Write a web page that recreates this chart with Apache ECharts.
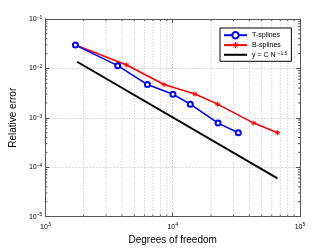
<!DOCTYPE html>
<html><head><meta charset="utf-8">
<script src="https://cdn.jsdelivr.net/npm/echarts@6/dist/echarts.min.js"></script>
<style>html,body{margin:0;padding:0;background:#fff}#c{width:332px;height:250px}</style>
</head><body><div id="c"></div>
<script>
const tDof = [1722, 3700, 6335, 10040, 13750, 22720, 32750];
const tErr = [0.0296, 0.01138, 0.00471, 0.00299, 0.00189, 0.000781, 0.000498];
const bDof = [1722, 4350, 8540, 14960, 22480, 43330, 66570];
const bErr = [0.0296, 0.01172, 0.00471, 0.00303, 0.00189, 0.000781, 0.000498];
const refDof = [1775, 66570];
const refErr = [0.01364, 0.0000594];
const xMinor = [2000,3000,4000,5000,6000,7000,8000,9000,20000,30000,40000,50000,60000,70000,80000,90000];
const yMinor = [2e-5,3e-5,4e-5,5e-5,6e-5,7e-5,8e-5,9e-5,2e-4,3e-4,4e-4,5e-4,6e-4,7e-4,8e-4,9e-4,
                2e-3,3e-3,4e-3,5e-3,6e-3,7e-3,8e-3,9e-3,2e-2,3e-2,4e-2,5e-2,6e-2,7e-2,8e-2,9e-2];
const X_MIN = 1000, X_MAX = 100000, Y_MIN = 1e-5, Y_MAX = 1e-1;

const FONT = 'Liberation Sans';
const AX = '#555';
const GRIDC = '#b8b8b8';
const STAR = 'path://M5,0L5,10M0,5L10,5M1.5,1.5L8.5,8.5M1.5,8.5L8.5,1.5';

function expLabel(v) {
  const e = Math.round(Math.log10(v));
  return '{a|10}{b|' + (e < 0 ? '\u2212' + (-e) : e) + '}';
}
const labRich = {
  a: {fontSize: 7, fontFamily: FONT, color: '#000', lineHeight: 8, verticalAlign: 'middle'},
  b: {fontSize: 5, fontFamily: FONT, color: '#000', lineHeight: 3, verticalAlign: 'top'}
};

const chart = echarts.init(document.getElementById('c'), null, {renderer: 'canvas'});
chart.setOption({
  animation: false,
  backgroundColor: '#fff',
  grid: {left: 43, right: 32, top: 19, bottom: 29},
  legend: {
    orient: 'vertical', left: 220, top: 28,
    padding: [3, 4, 3, 3], itemGap: 2, itemWidth: 23, itemHeight: 8,
    borderColor: '#000', borderWidth: 1, backgroundColor: '#fff',
    textStyle: {fontSize: 7, fontFamily: FONT, color: '#000',
      rich: {n: {fontSize: 7, fontFamily: FONT, color: '#000', lineHeight: 8, verticalAlign: 'middle'},
             s: {fontSize: 5, fontFamily: FONT, color: '#000', lineHeight: 3, verticalAlign: 'top'}}},
    data: [
      'T-splines',
      {name: 'B-splines', itemStyle: {color: 'transparent', borderColor: '#ff0000', borderWidth: 1}},
      {name: 'y = C N^-1.5', itemStyle: {opacity: 0}}
    ],
    formatter: function (name) {
      if (name === 'y = C N^-1.5') return '{n|y = C N }{s|\u22121.5}';
      return name;
    }
  },
  xAxis: [{
    type: 'log', logBase: 10, min: X_MIN, max: X_MAX,
    name: 'Degrees of freedom', nameLocation: 'middle', nameGap: 15,
    nameTextStyle: {fontSize: 10, fontFamily: FONT, color: '#000'},
    axisLine: {show: true, lineStyle: {color: AX, width: 1}},
    axisTick: {show: true, inside: true, length: 4, lineStyle: {color: AX}},
    axisLabel: {formatter: expLabel, rich: labRich, margin: 6},
    splitLine: {show: true, lineStyle: {color: GRIDC, type: [1, 2], width: 1}}
  }, {
    type: 'log', logBase: 10, min: X_MIN, max: X_MAX, position: 'top',
    axisLine: {show: true, lineStyle: {color: AX, width: 1}},
    axisTick: {show: true, inside: true, length: 4, lineStyle: {color: AX}},
    axisLabel: {show: false}, splitLine: {show: false}
  }],
  yAxis: [{
    type: 'log', logBase: 10, min: Y_MIN, max: Y_MAX,
    name: 'Relative error', nameLocation: 'middle', nameGap: 26,
    nameTextStyle: {fontSize: 10, fontFamily: FONT, color: '#000'},
    axisLine: {show: true, lineStyle: {color: AX, width: 1}},
    axisTick: {show: true, inside: true, length: 4, lineStyle: {color: AX}},
    axisLabel: {formatter: expLabel, rich: labRich, margin: 3},
    splitLine: {show: true, lineStyle: {color: GRIDC, type: [1, 2], width: 1}}
  }, {
    type: 'log', logBase: 10, min: Y_MIN, max: Y_MAX, position: 'right',
    axisLine: {show: true, lineStyle: {color: AX, width: 1}},
    axisTick: {show: true, inside: true, length: 4, lineStyle: {color: AX}},
    axisLabel: {show: false}, splitLine: {show: false}
  }],
  series: [
    {
      type: 'custom', silent: true, z: 1, xAxisIndex: 0, yAxisIndex: 0,
      data: xMinor.map(v => [v, 1e-3]),
      renderItem: function (params, api) {
        const x = api.value(0);
        const b = api.coord([x, Y_MIN]), t = api.coord([x, Y_MAX]);
        return {type: 'group', children: [
          {type: 'line', shape: {x1: b[0], y1: b[1], x2: t[0], y2: t[1]}, style: {stroke: GRIDC, lineWidth: 1, lineDash: [1, 2]}},
          {type: 'line', shape: {x1: b[0], y1: b[1], x2: b[0], y2: b[1] - 2}, style: {stroke: AX, lineWidth: 1}},
          {type: 'line', shape: {x1: t[0], y1: t[1], x2: t[0], y2: t[1] + 2}, style: {stroke: AX, lineWidth: 1}}
        ]};
      }
    },
    {
      type: 'custom', silent: true, z: 1, xAxisIndex: 0, yAxisIndex: 0,
      data: yMinor.map(v => [3000, v]),
      renderItem: function (params, api) {
        const y = api.value(1);
        const l = api.coord([X_MIN, y]), r = api.coord([X_MAX, y]);
        return {type: 'group', children: [
          {type: 'line', shape: {x1: l[0], y1: l[1], x2: l[0] + 2, y2: l[1]}, style: {stroke: AX, lineWidth: 1}},
          {type: 'line', shape: {x1: r[0], y1: r[1], x2: r[0] - 2, y2: r[1]}, style: {stroke: AX, lineWidth: 1}}
        ]};
      }
    },
    {
      name: 'T-splines', type: 'line', z: 4,
      data: tDof.map((d, i) => [d, tErr[i]]),
      symbol: 'emptyCircle', symbolSize: 5,
      lineStyle: {color: '#0000ff', width: 1.6},
      itemStyle: {color: '#0000ff', borderColor: '#0000ff', borderWidth: 1.5}
    },
    {
      name: 'B-splines', type: 'line', z: 3,
      data: bDof.map((d, i) => [d, bErr[i]]),
      symbol: STAR, symbolSize: 5,
      lineStyle: {color: '#ff0000', width: 1.6},
      itemStyle: {color: '#ff0000', borderColor: '#ff0000', borderWidth: 1}
    },
    {
      name: 'y = C N^-1.5', type: 'line', z: 3,
      data: refDof.map((d, i) => [d, refErr[i]]),
      symbol: 'none', showSymbol: false,
      lineStyle: {color: '#000', width: 2},
      itemStyle: {color: '#000'}
    }
  ]
});
</script></body></html>
